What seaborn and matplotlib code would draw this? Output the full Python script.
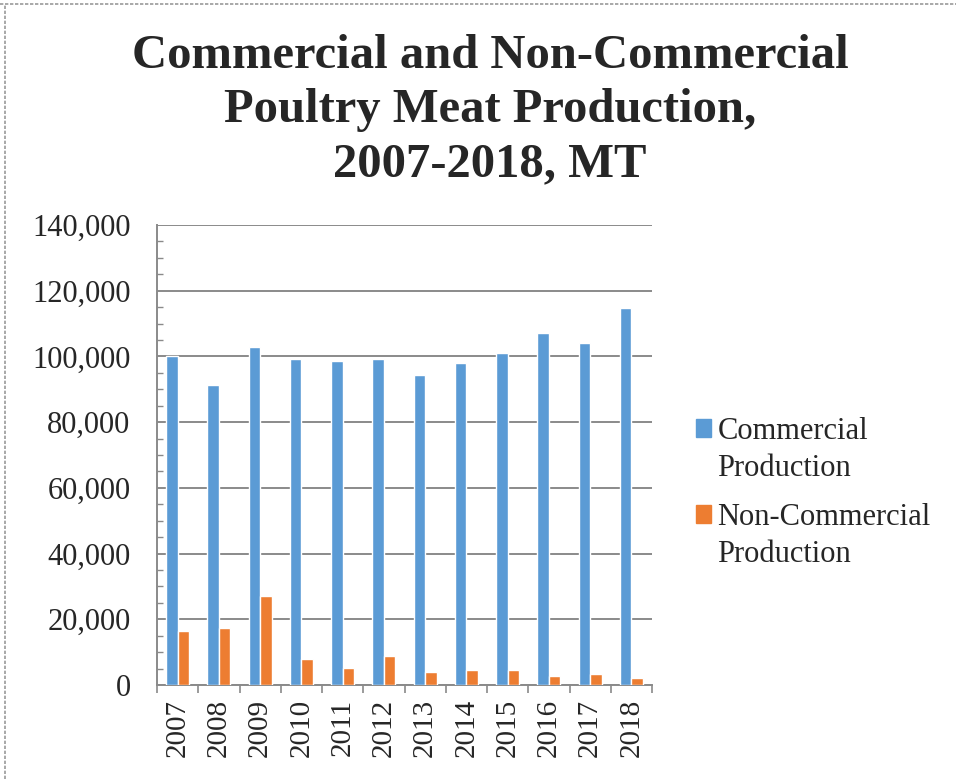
import pandas as pd
import seaborn as sns
import matplotlib.pyplot as plt
from matplotlib.lines import Line2D
from matplotlib.patches import Patch
from matplotlib.ticker import MultipleLocator, FixedLocator

# Values (metric tonnes)
years = ["2007", "2008", "2009", "2010", "2011", "2012",
         "2013", "2014", "2015", "2016", "2017", "2018"]
commercial = [100100, 91300, 102900, 99100, 98600, 99100,
              94300, 97900, 101100, 107000, 104000, 114600]
non_commercial = [16400, 17300, 27200, 7900, 5200, 8700,
                  4000, 4600, 4600, 2700, 3300, 2000]
series_names = ["Commercial Production", "Non-Commercial Production"]
colors = ["#5B9BD5", "#ED7D31"]

df = pd.DataFrame({
    "Year": years * 2,
    "Series": [series_names[0]] * len(years) + [series_names[1]] * len(years),
    "Value": commercial + non_commercial,
})

sns.set_style("white")
plt.rcParams["font.family"] = ["Liberation Serif", "DejaVu Serif"]

fig = plt.figure(figsize=(9.56, 7.79), dpi=100)
ax = fig.add_axes([157 / 956, 1 - 685 / 779, 495 / 956, 460 / 779])

sns.barplot(data=df, x="Year", y="Value", hue="Series", palette=colors,
            width=0.56, saturation=1, ax=ax, zorder=3)
ax.legend_.remove()

# axes and grid
ax.set_ylim(0, 140000)
ax.set_xlim(-0.5, len(years) - 0.5)
ax.yaxis.set_major_locator(MultipleLocator(20000))
ax.yaxis.set_minor_locator(MultipleLocator(5000))
ax.yaxis.set_major_formatter(lambda v, p: f"{int(v):,}")
ax.grid(axis="y", color="#8a8a8a", linewidth=1.4, zorder=0)
ax.set_axisbelow(True)
for s in ["top", "right"]:
    ax.spines[s].set_visible(False)
for s in ["left", "bottom"]:
    ax.spines[s].set_color("#8a8a8a")
    ax.spines[s].set_linewidth(1.4)

ax.tick_params(axis="y", which="major", length=6, width=1.2, color="#8a8a8a",
               labelsize=22, pad=13)
ax.tick_params(axis="y", which="minor", length=4, width=1.0, color="#8a8a8a",
               direction="in", left=True)
# x ticks sit between categories
ax.xaxis.set_minor_locator(FixedLocator([i - 0.5 for i in range(len(years) + 1)]))
ax.tick_params(axis="x", which="major", length=0, labelsize=21, labelrotation=90, pad=10)
ax.tick_params(axis="x", which="minor", length=6, width=1.2, color="#8a8a8a", bottom=True)
ax.set_xlabel("")
ax.set_ylabel("")

# title
fig.text(490 / 956, 1 - 110 / 779,
         "Commercial and Non-Commercial\nPoultry Meat Production,\n2007-2018, MT",
         ha="center", va="center", fontsize=35, fontweight="bold",
         linespacing=1.29)

# legend: one box per series so the marker sits on the first line
entries = [(colors[0], "Commercial", 417), (colors[1], "Non-Commercial", 503)]
for col, first, top in entries:
    fig.legend([Patch(color=col), Patch(color="none")], [first, "Production"],
               loc="upper left", bbox_to_anchor=(696 / 956, 1 - top / 779),
               frameon=False, fontsize=22, handlelength=0.5, handleheight=0.5,
               handletextpad=0.2, labelspacing=0.25, borderpad=0, borderaxespad=0)

# dashed page border (top and left)
fig.add_artist(Line2D([0, 1], [1 - 4 / 779] * 2, transform=fig.transFigure,
                      color="#9a9a9a", linestyle=(0, (2, 1)), linewidth=1.2))
fig.add_artist(Line2D([5 / 956] * 2, [0, 1 - 4 / 779], transform=fig.transFigure,
                      color="#9a9a9a", linestyle=(0, (2, 1)), linewidth=1.2))

fig.savefig("out.png", dpi=100)
